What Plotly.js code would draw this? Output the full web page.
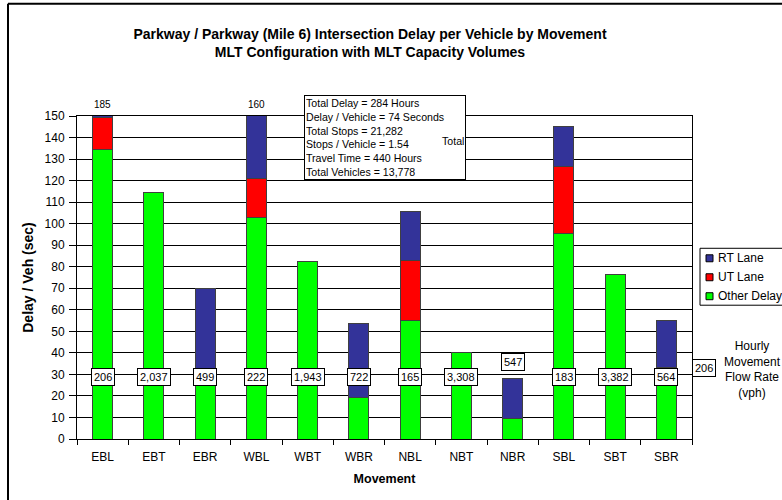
<!DOCTYPE html>
<html>
<head>
<meta charset="utf-8">
<script src="https://cdn.plot.ly/plotly-3.0.1.min.js"></script>
<style>
  html, body { margin: 0; padding: 0; background: #fff; }
  #chart { width: 782px; height: 500px; }
</style>
</head>
<body>
<div id="chart"></div>
<script>
// ---- Data ----
const movements = ["EBL", "EBT", "EBR", "WBL", "WBT", "WBR", "NBL", "NBT", "NBR", "SBL", "SBT", "SBR"];
const otherDelay = [134.5, 114.5, 28, 103, 82.5, 19.5, 55, 40, 9.5, 95.5, 76.5, 33];
const utLane     = [15, 0, 0, 18, 0, 0, 28, 0, 0, 31, 0, 0];
const rtLane     = [35.5, 0, 42, 39, 0, 34, 22.5, 0, 18.5, 18.5, 0, 22];
const flowRates  = ["206", "2,037", "499", "222", "1,943", "722", "165", "3,308", "547", "183", "3,382", "564"];
const seriesNames = ["Other Delay", "UT Lane", "RT Lane"];
const seriesColors = ["#00FF00", "#FF0000", "#333399"];
const statsLines = [
  "Total Delay = 284 Hours",
  "Delay / Vehicle = 74 Seconds",
  "Total Stops = 21,282",
  "Stops / Vehicle = 1.54",
  "Travel Time = 440 Hours",
  "Total Vehicles = 13,778"
];
const yMax = 150;

// ---- Layout helpers (pixel -> paper) ----
const L = 77, R = 692, T = 115.5, B = 439;
const px = x => (x - L) / (R - L);
const py = y => (B - y) / (B - T);
const FONT = "Liberation Sans, Arial, sans-serif";

const barLine = { color: "#404040", width: 1 };
const seriesValues = [otherDelay, utLane, rtLane];
const traces = seriesValues.map((vals, k) => ({
  name: seriesNames[k], x: movements, y: vals, type: "bar",
  marker: { color: seriesColors[k], line: barLine }, showlegend: false
}));

const annotations = [];
const shapes = [];
// Flow rate labels and clipped totals
movements.forEach((m, i) => {
  const total = otherDelay[i] + utLane[i] + rtLane[i];
  annotations.push({
    x: m, y: total < 30 ? 35.7 : 29, xref: "x", yref: "y",
    xanchor: "center", yanchor: "middle",
    text: flowRates[i], showarrow: false,
    font: { family: FONT, size: 11, color: "#000" },
    bgcolor: "#fff", bordercolor: "#000", borderwidth: 1, borderpad: 2
  });
  if (total > yMax) {
    annotations.push({
      x: m, y: py(104), xref: "x", yref: "paper",
      xanchor: "center", yanchor: "middle",
      text: String(Math.round(total)), showarrow: false,
      font: { family: FONT, size: 10, color: "#000" }
    });
  }
});
// Stats box
annotations.push({
  x: px(304), y: py(94), xref: "paper", yref: "paper",
  xanchor: "left", yanchor: "top", align: "left",
  text: statsLines.join("<br>"), showarrow: false, width: 158,
  font: { family: FONT, size: 10.6, color: "#000" },
  bgcolor: "#fff", bordercolor: "#000", borderwidth: 1, borderpad: 1
});
annotations.push({
  x: px(466), y: py(141), xref: "paper", yref: "paper",
  xanchor: "right", yanchor: "middle",
  text: "Total", showarrow: false,
  font: { family: FONT, size: 10.6, color: "#000" }
});
// Legend (drawn manually to match the reference box)
shapes.push({ type: "rect", xref: "paper", yref: "paper",
  x0: px(700), x1: px(800), y0: py(248), y1: py(305),
  line: { color: "#000", width: 1 }, fillcolor: "#fff" });
const legendOrder = [2, 1, 0];
legendOrder.forEach((k, j) => {
  const cy = 258 + j * 19;
  shapes.push({ type: "rect", xref: "paper", yref: "paper",
    x0: px(706), x1: px(713), y0: py(cy + 3.5), y1: py(cy - 3.5),
    line: { color: "#000", width: 1 }, fillcolor: seriesColors[k] });
  annotations.push({
    x: px(716), y: py(cy), xref: "paper", yref: "paper",
    xanchor: "left", yanchor: "middle",
    text: seriesNames[k], showarrow: false,
    font: { family: FONT, size: 12, color: "#000" }
  });
});
// Flow rate key
annotations.push({
  x: px(704), y: py(368), xref: "paper", yref: "paper",
  xanchor: "center", yanchor: "middle",
  text: flowRates[0], showarrow: false,
  font: { family: FONT, size: 11, color: "#000" },
  bgcolor: "#fff", bordercolor: "#000", borderwidth: 1, borderpad: 2
});
annotations.push({
  x: px(752), y: py(369), xref: "paper", yref: "paper",
  xanchor: "center", yanchor: "middle",
  text: "Hourly<br>Movement<br>Flow Rate<br>(vph)", showarrow: false,
  font: { family: FONT, size: 12, color: "#000" }
});
// Chart area border (left and top visible)
shapes.push({ type: "line", xref: "paper", yref: "paper", x0: px(8), x1: px(8), y0: py(3), y1: py(505),
  line: { color: "#000", width: 2 } });
shapes.push({ type: "line", xref: "paper", yref: "paper", x0: px(8), x1: px(790), y0: py(3), y1: py(3),
  line: { color: "#000", width: 2 } });

const layout = {
  width: 782, height: 500,
  margin: { l: L, r: 782 - R, t: T, b: 500 - B, pad: 0, autoexpand: false },
  paper_bgcolor: "#fff", plot_bgcolor: "#fff",
  barmode: "stack", bargap: 0.61, showlegend: false,
  font: { family: FONT, size: 12, color: "#000" },
  title: {
    text: "<b>Parkway / Parkway (Mile 6) Intersection Delay per Vehicle by Movement<br>MLT Configuration with MLT Capacity Volumes</b>",
    font: { family: FONT, size: 14, color: "#000" },
    xref: "paper", x: px(370), xanchor: "center",
    yref: "container", y: 1 - 39 / 500, yanchor: "middle"
  },
  xaxis: {
    type: "category", tickson: "boundaries", ticks: "outside", ticklen: 5,
    tickcolor: "#000", showline: true, linecolor: "#000", linewidth: 1, mirror: true,
    showgrid: false, tickfont: { family: FONT, size: 12 }, ticklabelstandoff: 7,
    title: { text: "<b>Movement</b>", font: { family: FONT, size: 12.5 }, standoff: 10 },
    fixedrange: true, automargin: false
  },
  yaxis: {
    range: [0, yMax], dtick: 10, ticks: "outside", ticklen: 7, tickcolor: "#000",
    showline: true, linecolor: "#000", linewidth: 1, mirror: true,
    showgrid: true, gridcolor: "#000", gridwidth: 1, zeroline: false,
    tickfont: { family: FONT, size: 12 }, ticklabelstandoff: 2,
    title: { text: "<b>Delay / Veh (sec)</b>", font: { family: FONT, size: 14 }, standoff: 7 },
    fixedrange: true, automargin: false
  },
  annotations: annotations,
  shapes: shapes
};

Plotly.newPlot("chart", traces, layout, { displayModeBar: false, staticPlot: true });
</script>
</body>
</html>
